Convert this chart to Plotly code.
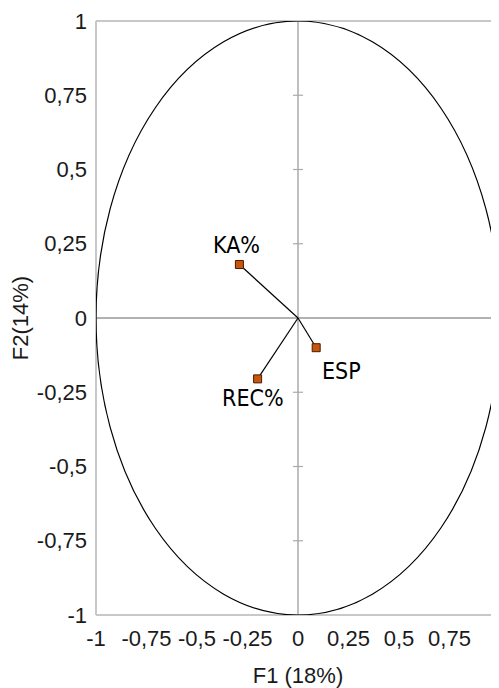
import plotly.graph_objects as go

# Data
variables = ["KA%", "ESP", "REC%"]
f1 = [-0.29, 0.09, -0.20]
f2 = [0.18, -0.10, -0.205]

tick_vals = [-1, -0.75, -0.5, -0.25, 0, 0.25, 0.5, 0.75, 1]
tick_text = ["-1", "-0,75", "-0,5", "-0,25", "0", "0,25", "0,5", "0,75", "1"]

x_title = "F1 (18%)"
y_title = "F2(14%)"

# label offsets (pixels) relative to each point
label_dx = [-3, 25, -5]
label_dy = [20, -23, -19]

fig = go.Figure()

# vectors from origin
vx, vy = [], []
for x, y in zip(f1, f2):
    vx += [0, x, None]
    vy += [0, y, None]
fig.add_trace(go.Scatter(x=vx, y=vy, mode="lines",
                         line=dict(color="black", width=1.2),
                         hoverinfo="skip", showlegend=False))

fig.add_trace(go.Scatter(
    x=f1, y=f2, mode="markers",
    marker=dict(symbol="square", size=8, color="#c8560f", line=dict(color="#4a1a00", width=1)),
    showlegend=False))

label_font = dict(family="Liberation Sans Narrow, DejaVu Sans Condensed, Arial Narrow", size=23, color="black")
annotations = []
for name, x, y, dx, dy in zip(variables, f1, f2, label_dx, label_dy):
    annotations.append(dict(x=x, y=y, xref="x", yref="y", text=name, showarrow=False,
                            xanchor="center", yanchor="middle", xshift=dx, yshift=dy,
                            font=label_font))

shapes = []
# correlation circle
shapes.append(dict(type="circle", xref="x", yref="y", x0=-1, y0=-1, x1=1, y1=1,
                   line=dict(color="black", width=1.2), layer="above"))
# zero lines
shapes.append(dict(type="line", xref="x", yref="y", x0=0, x1=0, y0=-1, y1=1,
                   line=dict(color="#aaaaaa", width=1.5), layer="below"))
shapes.append(dict(type="line", xref="x", yref="y", x0=-1, x1=1, y0=0, y1=0,
                   line=dict(color="#999999", width=1.5), layer="below"))
# tick marks on the vertical zero line
for v in tick_vals:
    if v in (-1, 0, 1):
        continue
    shapes.append(dict(type="line", xref="x", yref="y", x0=-0.025, x1=0.025, y0=v, y1=v,
                       line=dict(color="#aaaaaa", width=1.2), layer="below"))
# frame (left, top, bottom)
frame = dict(color="#c8c8c8", width=2)
shapes.append(dict(type="line", xref="paper", yref="paper", x0=0, x1=0, y0=0, y1=1, line=frame, layer="below"))
shapes.append(dict(type="line", xref="paper", yref="paper", x0=0, x1=1, y0=1, y1=1, line=frame, layer="below"))
shapes.append(dict(type="line", xref="paper", yref="paper", x0=0, x1=1, y0=0, y1=0, line=frame, layer="below"))

axis_font = dict(family="Liberation Sans, Arial, Helvetica", size=22, color="#1a1a1a")

fig.update_layout(
    width=499, height=680,
    margin=dict(l=88, r=7, t=13, b=73),
    paper_bgcolor="white", plot_bgcolor="white",
    shapes=shapes,
    annotations=annotations,
    xaxis=dict(range=[-1, 1], tickvals=tick_vals, ticktext=tick_text, showgrid=False,
               zeroline=False, showline=False, ticks="", tickfont=axis_font,
               ticklabelstandoff=8, automargin=False,
               title=dict(text=x_title, font=axis_font, standoff=18)),
    yaxis=dict(range=[-1, 1], tickvals=tick_vals, ticktext=tick_text, showgrid=False,
               zeroline=False, showline=False, ticks="", tickfont=axis_font,
               ticklabelstandoff=8, automargin=False,
               title=dict(text=y_title, font=axis_font, standoff=8)),
)

fig.write_html("out.html")
